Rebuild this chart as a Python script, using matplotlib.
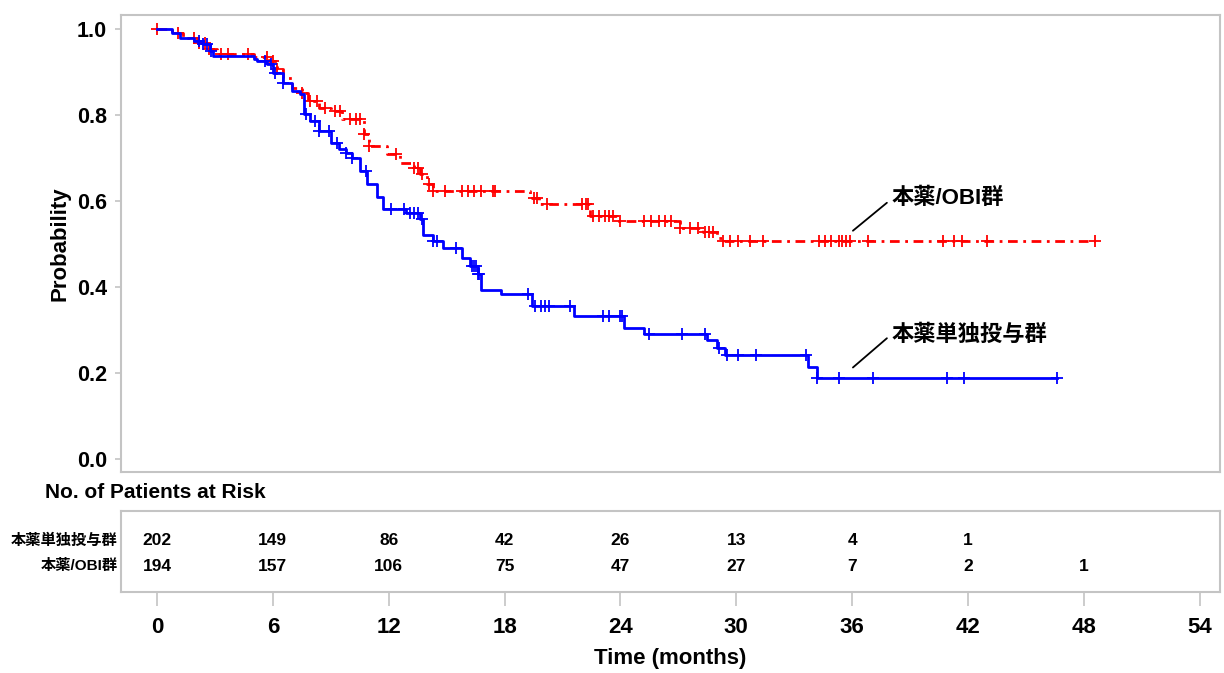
import numpy as np
import matplotlib
matplotlib.use("Agg")
import matplotlib.pyplot as plt

plt.rcParams['font.family'] = ['Liberation Sans', 'Noto Sans CJK JP', 'DejaVu Sans']
plt.rcParams['font.weight'] = 'bold'

# --- data (months, survival probability) ---
mono_times = [0, 0.8, 1.2, 1.9, 2.4, 2.75, 2.9, 5.0, 5.2, 5.7, 6.0, 6.5, 7.0, 7.4, 7.6,
              7.9, 8.4, 9.0, 9.4, 9.8, 10.1, 10.5, 10.9, 11.4, 11.7, 12.9, 13.6, 13.8,
              14.3, 14.8, 15.8, 16.2, 16.6, 16.8, 17.8, 19.4, 21.6, 24.2, 25.2, 28.5,
              29.0, 29.4, 33.7, 34.2, 46.6]
mono_surv = [1.0, 0.99, 0.98, 0.972, 0.965, 0.95, 0.937, 0.93, 0.926, 0.918, 0.898, 0.875,
             0.856, 0.849, 0.803, 0.787, 0.763, 0.735, 0.722, 0.712, 0.70, 0.671, 0.64,
             0.61, 0.582, 0.573, 0.559, 0.52, 0.508, 0.49, 0.468, 0.45, 0.43, 0.393,
             0.385, 0.355, 0.333, 0.305, 0.292, 0.276, 0.258, 0.242, 0.213, 0.188, 0.188]
mono_cens = [2.2, 2.4, 2.6, 2.8, 5.6, 5.9, 6.1, 6.5, 7.7, 8.2, 8.4, 8.9, 9.3, 9.8, 10.1,
             10.8, 12.1, 12.8, 13.1, 13.3, 13.5, 13.7, 14.3, 14.5, 15.5, 16.3, 16.4, 16.5,
             16.6, 16.7, 19.2, 19.6, 19.9, 20.1, 20.3, 21.4, 23.1, 23.4, 24.0, 24.1, 25.5,
             27.2, 28.4, 29.1, 29.5, 30.1, 31.0, 33.6, 34.2, 35.3, 37.1, 40.9, 41.8, 46.6]

obi_times = [0, 0.8, 1.35, 2.1, 2.6, 3.1, 5.0, 5.8, 6.2, 6.5, 7.0, 7.5, 7.8, 8.4, 9.0,
             9.6, 10.7, 11.0, 11.9, 12.6, 13.3, 13.6, 14.0, 14.3, 19.3, 19.8, 22.4, 23.8,
             27.1, 28.3, 29.0, 29.3, 48.6]
obi_surv = [1.0, 0.99, 0.98, 0.968, 0.954, 0.942, 0.935, 0.926, 0.907, 0.886, 0.862, 0.852,
            0.833, 0.817, 0.81, 0.791, 0.756, 0.729, 0.71, 0.689, 0.676, 0.663, 0.64, 0.624,
            0.608, 0.594, 0.566, 0.554, 0.538, 0.527, 0.514, 0.506, 0.506]
obi_cens = [0.0, 1.1, 1.9, 2.2, 2.5, 2.7, 3.3, 3.7, 4.7, 5.7, 6.0, 6.2, 7.5, 7.9, 8.3, 8.7,
            9.2, 9.5, 10.0, 10.3, 10.5, 10.7, 11.0, 12.4, 13.3, 13.5, 13.7, 14.1, 14.3, 14.9,
            15.8, 16.1, 16.4, 16.8, 17.4, 17.5, 19.5, 19.7, 20.2, 22.0, 22.2, 22.3, 22.6,
            22.9, 23.2, 23.4, 23.6, 24.0, 25.2, 25.6, 26.0, 26.3, 26.6, 27.1, 27.6, 28.0,
            28.4, 28.6, 28.8, 29.3, 29.7, 30.1, 30.7, 31.4, 34.3, 34.6, 34.9, 35.3, 35.5,
            35.7, 35.9, 36.8, 40.7, 41.3, 41.7, 43.0, 48.6]

risk_times = [0, 6, 12, 18, 24, 30, 36, 42, 48]
mono_risk = [202, 149, 86, 42, 26, 13, 4, 1]
obi_risk = [194, 157, 106, 75, 47, 27, 7, 2, 1]

mono_label = "本薬単独投与群"
obi_label = "本薬/OBI群"

BLUE = '#0000ff'
RED = '#ff0000'
GRID = '#c4c4c4'


def step_at(times, surv, t):
    idx = np.searchsorted(times, t, side='right') - 1
    return np.asarray(surv)[idx]


fig = plt.figure(figsize=(12.24, 6.73), dpi=100)
W, H = 1224, 673
ax = fig.add_axes([121 / W, 1 - 472 / H, 1099 / W, 457 / H])
tab = fig.add_axes([121 / W, 1 - 592 / H, 1099 / W, 81 / H])

xlim = (-1.864, 55.05)

# curves
ax.step(obi_times, obi_surv, where='post', color=RED, lw=2.0,
        linestyle=(0, (3.5, 2, 1, 2)))
ax.plot(obi_cens, step_at(obi_times, obi_surv, obi_cens), ls='none', marker='+',
        ms=9, mew=1.3, color=RED)
ax.step(mono_times, mono_surv, where='post', color=BLUE, lw=2.0)
ax.plot(mono_cens, step_at(mono_times, mono_surv, mono_cens), ls='none', marker='+',
        ms=9, mew=1.3, color=BLUE)

ax.set_xlim(*xlim)
ax.set_ylim(-0.030, 1.0326)
ax.set_xticks([])
ax.set_yticks([0, 0.2, 0.4, 0.6, 0.8, 1.0])
ax.set_yticklabels(['0.0', '0.2', '0.4', '0.6', '0.8', '1.0'])
ax.tick_params(axis='y', length=4, width=1.2, color=GRID, pad=6, labelsize=15.5)
ax.set_ylabel('Probability', fontsize=16, fontweight='bold', labelpad=5)
for sp in ax.spines.values():
    sp.set_color(GRID)
    sp.set_linewidth(1.5)

# curve labels with leader lines
ax.annotate('', xy=(36.04, 0.531), xytext=(37.8, 0.596),
            arrowprops=dict(arrowstyle='-', lw=1.3, color='black', shrinkA=0, shrinkB=0))
ax.text(38.06, 0.606, obi_label, fontsize=16, fontweight='bold', ha='left', va='center')
ax.annotate('', xy=(36.04, 0.213), xytext=(37.8, 0.281),
            arrowprops=dict(arrowstyle='-', lw=1.3, color='black', shrinkA=0, shrinkB=0))
ax.text(38.06, 0.288, mono_label, fontsize=16, fontweight='bold', ha='left', va='center')

# risk table
fig.text(45 / W, 1 - 493 / H, 'No. of Patients at Risk', fontsize=15, fontweight='bold',
         ha='left', va='center')
tab.set_xlim(*xlim)
tab.set_ylim(0, 1)
for t, n in zip(risk_times, mono_risk):
    tab.text(t, 0.63, str(n), ha='center', va='center', fontsize=12.5, fontweight='bold')
for t, n in zip(risk_times, obi_risk):
    tab.text(t, 0.32, str(n), ha='center', va='center', fontsize=12.5, fontweight='bold')
tab.text(-0.003, 0.63, mono_label, transform=tab.transAxes, ha='right', va='center',
         fontsize=11, fontweight='bold')
tab.text(-0.003, 0.32, obi_label, transform=tab.transAxes, ha='right', va='center',
         fontsize=11, fontweight='bold')
tab.set_yticks([])
tab.set_xticks(np.arange(0, 55, 6))
tab.tick_params(axis='x', length=10, width=1.2, color=GRID, pad=8, labelsize=16)
tab.set_xlabel('Time (months)', fontsize=16, fontweight='bold', labelpad=7)
for sp in tab.spines.values():
    sp.set_color(GRID)
    sp.set_linewidth(1.5)

fig.savefig('out.png', dpi=100)
